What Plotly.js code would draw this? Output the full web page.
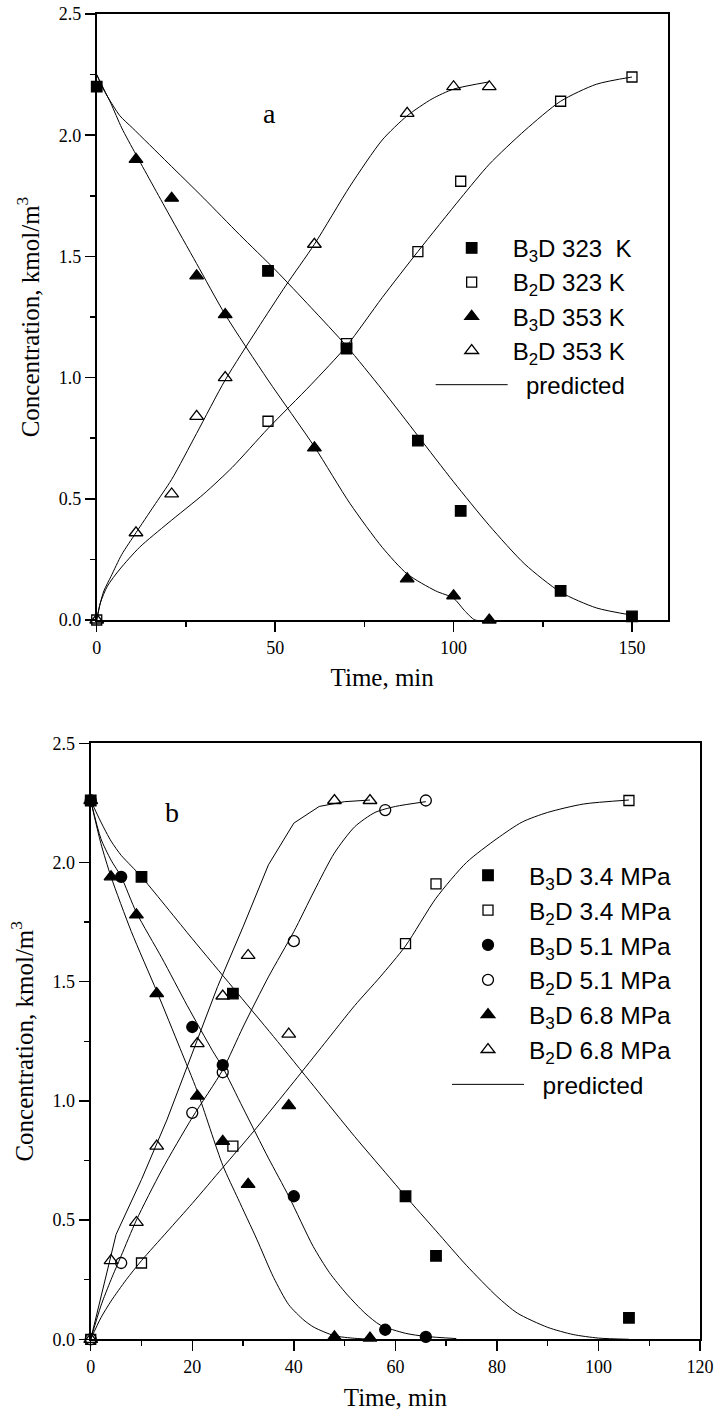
<!DOCTYPE html>
<html><head><meta charset="utf-8">
<script src="https://cdn.plot.ly/plotly-3.0.1.min.js"></script>
<style>html,body{margin:0;padding:0;background:#fff}#chart{width:716px;height:1412px}</style>
</head><body><div id="chart"></div>
<script>
// ---------- Panel a: measured points ----------
const aB3D323_t = [0, 48, 70, 90, 102, 130, 150];
const aB3D323_c = [2.20, 1.44, 1.12, 0.74, 0.45, 0.12, 0.015];
const aB2D323_t = [0, 48, 70, 90, 102, 130, 150];
const aB2D323_c = [0, 0.82, 1.14, 1.52, 1.81, 2.14, 2.24];
const aB3D353_t = [11, 21, 28, 36, 61, 87, 100, 110];
const aB3D353_c = [1.90, 1.74, 1.42, 1.26, 0.71, 0.17, 0.10, 0.0];
const aB2D353_t = [0, 11, 21, 28, 36, 61, 87, 100, 110];
const aB2D353_c = [0, 0.36, 0.52, 0.84, 1.00, 1.55, 2.09, 2.20, 2.20];

// ---------- Panel a: predicted curves ----------
const aP_B3D323_t = [0, 1.5, 3, 6.5, 10, 20, 30, 40, 50, 60, 70, 80, 90, 100, 110, 120, 130, 140, 150];
const aP_B3D323_c = [2.25, 2.20, 2.16, 2.08, 2.03, 1.885, 1.74, 1.59, 1.445, 1.29, 1.13, 0.95, 0.76, 0.57, 0.39, 0.23, 0.115, 0.05, 0.02];
const aP_B3D353_t = [0, 2, 4, 7, 11, 20, 28, 36, 48, 61, 71, 80, 87, 95, 100, 103, 106, 110];
const aP_B3D353_c = [2.25, 2.19, 2.13, 2.03, 1.92, 1.68, 1.47, 1.26, 0.99, 0.715, 0.48, 0.30, 0.19, 0.12, 0.09, 0.04, 0.0, 0.0];
const aP_B2D353_t = [0, 1, 2, 4, 7, 11, 16, 21, 28, 36, 45, 53, 61, 71, 80, 87, 94, 100, 110];
const aP_B2D353_c = [0, 0.07, 0.12, 0.18, 0.27, 0.36, 0.47, 0.58, 0.77, 0.99, 1.20, 1.38, 1.55, 1.79, 1.98, 2.08, 2.15, 2.19, 2.22];
const aP_B2D323_t = [0, 1, 3, 6.5, 12, 20, 30, 38, 48, 60, 70, 80, 90, 102, 110, 120, 130, 140, 150];
const aP_B2D323_c = [0, 0.07, 0.14, 0.21, 0.30, 0.40, 0.52, 0.63, 0.79, 0.97, 1.13, 1.33, 1.52, 1.74, 1.88, 2.02, 2.14, 2.21, 2.24];

// ---------- Panel b: measured points ----------
const bB3D34_t = [0, 10, 28, 62, 68, 106];
const bB3D34_c = [2.26, 1.94, 1.45, 0.60, 0.35, 0.09];
const bB2D34_t = [0, 10, 28, 62, 68, 106];
const bB2D34_c = [0, 0.32, 0.81, 1.66, 1.91, 2.26];
const bB3D51_t = [0, 6, 20, 26, 40, 58, 66];
const bB3D51_c = [2.26, 1.94, 1.31, 1.15, 0.60, 0.04, 0.01];
const bB2D51_t = [0, 6, 20, 26, 40, 58, 66];
const bB2D51_c = [0, 0.32, 0.95, 1.12, 1.67, 2.22, 2.26];
const bB3D68_t = [0, 4, 9, 13, 21, 26, 31, 39, 48, 55];
const bB3D68_c = [2.26, 1.94, 1.78, 1.45, 1.02, 0.83, 0.65, 0.98, 0.01, 0.005];
const bB2D68_t = [0, 4, 9, 13, 21, 26, 31, 39, 48, 55];
const bB2D68_c = [0, 0.33, 0.49, 0.81, 1.24, 1.44, 1.61, 1.28, 2.26, 2.26];

// ---------- Panel b: predicted curves ----------
const bP_B3D34_t = [0, 2, 4, 6, 8, 10, 20, 28, 36, 44, 52, 58, 62, 68, 74, 80, 84, 90, 95, 100, 106];
const bP_B3D34_c = [2.26, 2.17, 2.09, 2.03, 1.985, 1.94, 1.68, 1.475, 1.27, 1.06, 0.85, 0.70, 0.60, 0.455, 0.31, 0.18, 0.11, 0.05, 0.02, 0.005, 0];
const bP_B3D51_t = [0, 2, 4, 6, 9, 14, 19, 24, 26, 30, 35, 39, 43.8, 47, 50.4, 54, 57, 62, 66, 72];
const bP_B3D51_c = [2.26, 2.10, 2.01, 1.94, 1.79, 1.60, 1.40, 1.21, 1.14, 0.97, 0.76, 0.60, 0.39, 0.28, 0.19, 0.11, 0.06, 0.025, 0.012, 0.003];
const bP_B3D68_t = [0, 2, 4, 8, 13, 17.6, 21, 26, 29, 32.7, 36, 39, 42, 44, 48, 52, 56];
const bP_B3D68_c = [2.26, 2.08, 1.94, 1.71, 1.46, 1.22, 1.04, 0.73, 0.59, 0.42, 0.26, 0.145, 0.08, 0.05, 0.015, 0.004, 0];
const bP_B2D68_t = [0, 5, 10, 15, 20, 25, 30, 35, 40, 45, 50, 55];
const bP_B2D68_c = [0, 0.44, 0.67, 0.92, 1.20, 1.48, 1.73, 1.99, 2.165, 2.235, 2.255, 2.262];
const bP_B2D51_t = [0, 2, 4, 6, 9, 14, 20, 26, 30, 35, 40, 44, 48, 52, 56, 60, 66];
const bP_B2D51_c = [0, 0.14, 0.25, 0.35, 0.50, 0.71, 0.93, 1.13, 1.31, 1.52, 1.71, 1.88, 2.04, 2.15, 2.21, 2.235, 2.255];
const bP_B2D34_t = [0, 2, 4, 7, 10, 15, 20, 26, 32, 40, 46, 52, 57, 62, 68, 74, 80, 85, 90, 97, 106];
const bP_B2D34_c = [0, 0.09, 0.16, 0.25, 0.33, 0.45, 0.57, 0.72, 0.87, 1.08, 1.24, 1.40, 1.52, 1.65, 1.85, 2.00, 2.10, 2.17, 2.21, 2.245, 2.262];

// ---------- Labels ----------
const legendA = ['B<sub>3</sub>D 323\u00a0\u00a0K', 'B<sub>2</sub>D 323 K', 'B<sub>3</sub>D 353 K', 'B<sub>2</sub>D 353 K'];
const legendB = ['B<sub>3</sub>D 3.4 MPa', 'B<sub>2</sub>D 3.4 MPa', 'B<sub>3</sub>D 5.1 MPa', 'B<sub>2</sub>D 5.1 MPa', 'B<sub>3</sub>D 6.8 MPa', 'B<sub>2</sub>D 6.8 MPa'];
const predictedLabel = '\u00a0\u00a0predicted';
const xTitle = 'Time, min';
const yTitle = 'Concentration, kmol/m<sup>3</sup>';

function pts(x, y, name, symbol, size, xa, ya, leg) {
  return {x: x, y: y, name: name, type: 'scatter', mode: 'markers', xaxis: xa, yaxis: ya, legend: leg,
    cliponaxis: false,
    marker: {symbol: symbol, size: size, color: '#000', line: {color: '#000', width: 1.3}}};
}
function curve(x, y, xa, ya, leg, show, shape) {
  return {x: x, y: y, name: predictedLabel, type: 'scatter', mode: 'lines', xaxis: xa, yaxis: ya, legend: leg,
    showlegend: show, hoverinfo: 'skip',
    line: {color: '#000', width: 1, shape: shape || 'spline', smoothing: 0.7}};
}

const traces = [
  pts(aB3D323_t, aB3D323_c, legendA[0], 'square', 10.5, 'x', 'y', 'legend'),
  pts(aB2D323_t, aB2D323_c, legendA[1], 'square-open', 10, 'x', 'y', 'legend'),
  pts(aB3D353_t, aB3D353_c, legendA[2], 'triangle-up', 12, 'x', 'y', 'legend'),
  pts(aB2D353_t, aB2D353_c, legendA[3], 'triangle-up-open', 12, 'x', 'y', 'legend'),
  curve(aP_B3D323_t, aP_B3D323_c, 'x', 'y', 'legend', true),
  curve(aP_B3D353_t, aP_B3D353_c, 'x', 'y', 'legend', false),
  curve(aP_B2D353_t, aP_B2D353_c, 'x', 'y', 'legend', false),
  curve(aP_B2D323_t, aP_B2D323_c, 'x', 'y', 'legend', false),

  pts(bB3D34_t, bB3D34_c, legendB[0], 'square', 10.5, 'x2', 'y2', 'legend2'),
  pts(bB2D34_t, bB2D34_c, legendB[1], 'square-open', 10, 'x2', 'y2', 'legend2'),
  pts(bB3D51_t, bB3D51_c, legendB[2], 'circle', 11, 'x2', 'y2', 'legend2'),
  pts(bB2D51_t, bB2D51_c, legendB[3], 'circle-open', 11, 'x2', 'y2', 'legend2'),
  pts(bB3D68_t, bB3D68_c, legendB[4], 'triangle-up', 12, 'x2', 'y2', 'legend2'),
  pts(bB2D68_t, bB2D68_c, legendB[5], 'triangle-up-open', 12, 'x2', 'y2', 'legend2'),
  curve(bP_B3D34_t, bP_B3D34_c, 'x2', 'y2', 'legend2', true),
  curve(bP_B3D51_t, bP_B3D51_c, 'x2', 'y2', 'legend2', false),
  curve(bP_B3D68_t, bP_B3D68_c, 'x2', 'y2', 'legend2', false),
  curve(bP_B2D68_t, bP_B2D68_c, 'x2', 'y2', 'legend2', false, 'linear'),
  curve(bP_B2D51_t, bP_B2D51_c, 'x2', 'y2', 'legend2', false),
  curve(bP_B2D34_t, bP_B2D34_c, 'x2', 'y2', 'legend2', false)
];

const serif = 'Liberation Serif, Times New Roman, serif';
const sans = 'Liberation Sans, Arial, sans-serif';
function axis(extra) {
  return Object.assign({
    showline: true, linewidth: 2, linecolor: '#000', mirror: true,
    ticks: 'outside', ticklen: 10, tickwidth: 1.5, tickcolor: '#000',
    showgrid: false, zeroline: false, fixedrange: true,
    tickfont: {family: serif, size: 18, color: '#000'}
  }, extra);
}

const layout = {
  width: 716, height: 1412,
  margin: {l: 0, r: 0, t: 0, b: 0},
  paper_bgcolor: '#fff', plot_bgcolor: '#fff',
  font: {family: serif, size: 18, color: '#000'},
  showlegend: true,
  xaxis: axis({domain: [0.1351, 0.9325], anchor: 'y', range: [0, 160], tick0: 0, dtick: 50,
    minor: {ticks: 'outside', ticklen: 5, tickwidth: 1.5, tickcolor: '#000', dtick: 25, showgrid: false},
    title: {text: xTitle, font: {family: serif, size: 25}, standoff: 12}}),
  yaxis: axis({domain: [0.5609, 0.9901], anchor: 'x', range: [0, 2.5], tick0: 0, dtick: 0.5, tickformat: '.1f',
    minor: {ticks: 'outside', ticklen: 5, tickwidth: 1.5, tickcolor: '#000', dtick: 0.25, showgrid: false},
    title: {text: yTitle, font: {family: serif, size: 25}, standoff: 12}}),
  xaxis2: axis({domain: [0.1267, 0.9777], anchor: 'y2', range: [0, 120], tick0: 0, dtick: 20,
    minor: {ticks: 'outside', ticklen: 5, tickwidth: 1.5, tickcolor: '#000', dtick: 10, showgrid: false},
    title: {text: xTitle, font: {family: serif, size: 25}, standoff: 13}}),
  yaxis2: axis({domain: [0.0515, 0.4736], anchor: 'x2', range: [0, 2.5], tick0: 0, dtick: 0.5, tickformat: '.1f',
    minor: {ticks: 'outside', ticklen: 5, tickwidth: 1.5, tickcolor: '#000', dtick: 0.25, showgrid: false},
    title: {text: yTitle, font: {family: serif, size: 25}, standoff: 12}}),
  legend: {x: 0.6015, xanchor: 'left', y: 0.8401, yanchor: 'top', bgcolor: 'rgba(0,0,0,0)',
    font: {family: sans, size: 24, color: '#000'}, itemwidth: 72, traceorder: 'normal', tracegroupgap: 0},
  legend2: {x: 0.6243, xanchor: 'left', y: 0.396, yanchor: 'top', bgcolor: 'rgba(0,0,0,0)',
    font: {family: sans, size: 24.5, color: '#000'}, itemwidth: 72, traceorder: 'normal', tracegroupgap: 0},
  annotations: [
    {text: 'a', xref: 'x', yref: 'y', x: 48.3, y: 2.09, showarrow: false, font: {family: serif, size: 28, color: '#000'}},
    {text: 'b', xref: 'x2', yref: 'y2', x: 16, y: 2.21, showarrow: false, font: {family: serif, size: 28, color: '#000'}}
  ]
};

Plotly.newPlot('chart', traces, layout, {staticPlot: true, displayModeBar: false});
</script>
</body></html>
